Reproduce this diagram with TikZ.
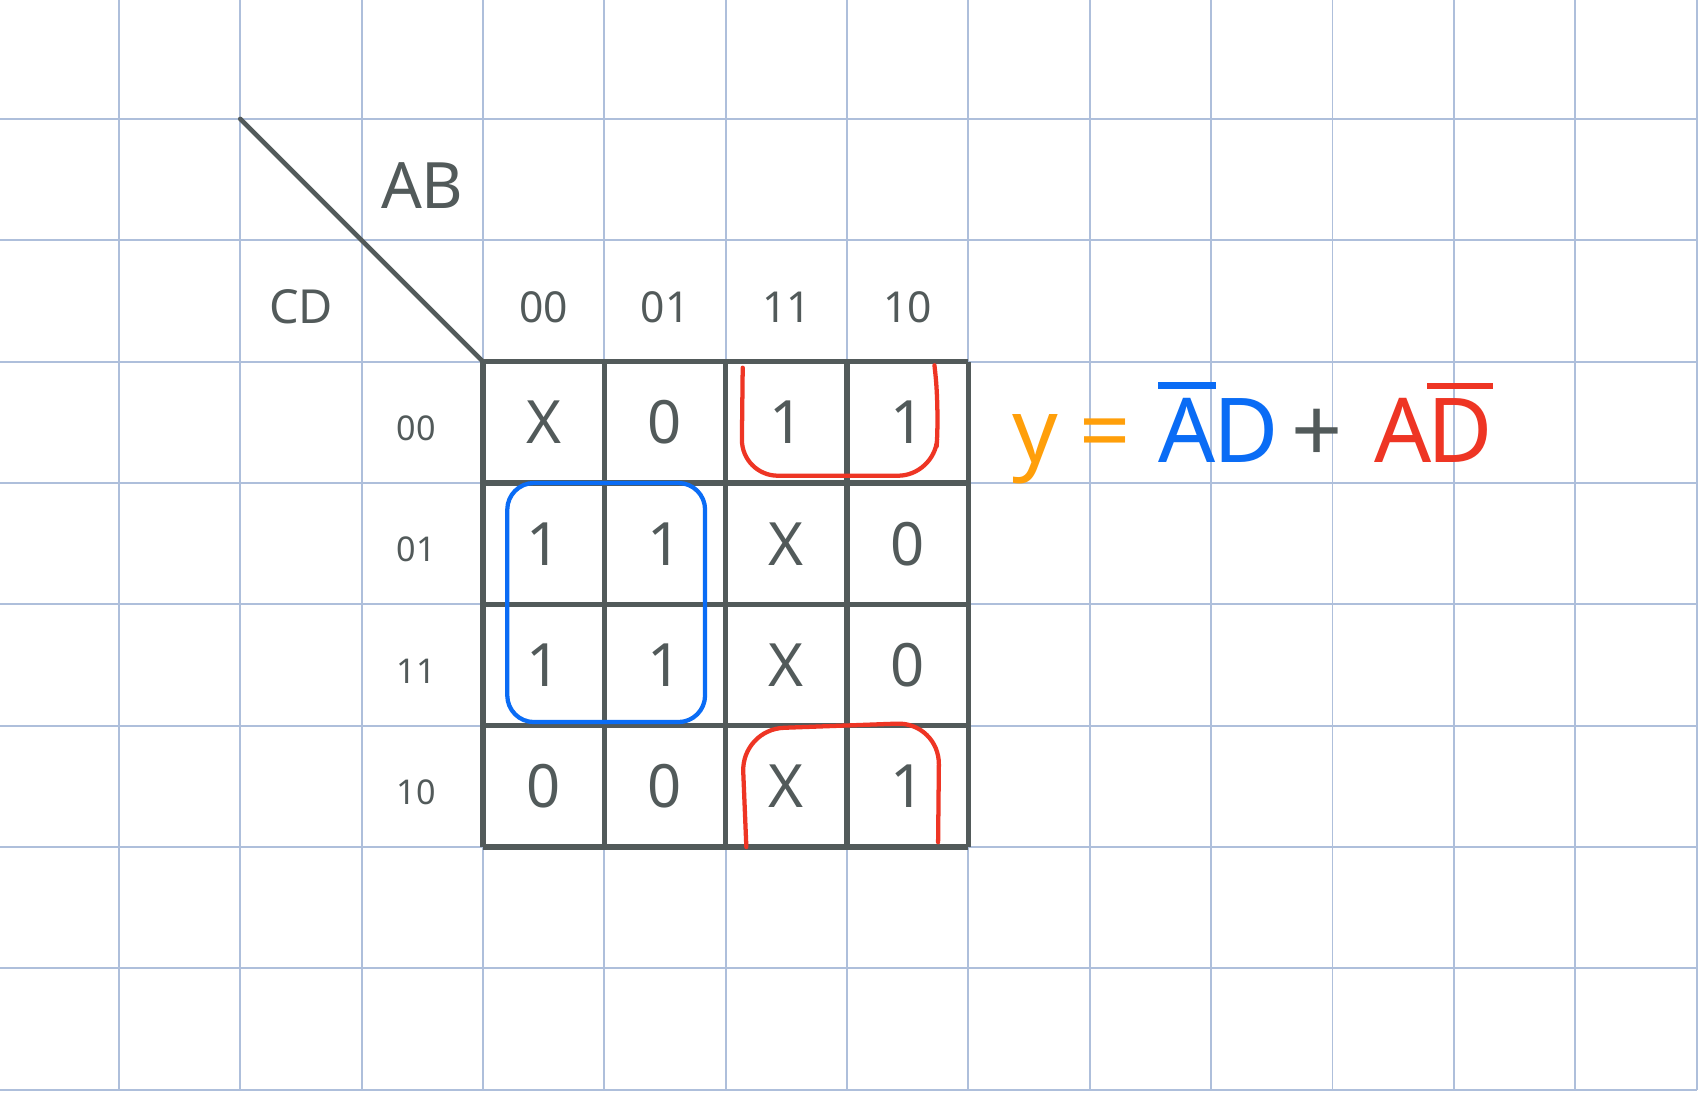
\documentclass[tikz,border=0pt]{standalone}
\usepackage{fontspec}
\setmainfont{Noto Sans}
\definecolor{paper}{HTML}{AEBFDB}
\definecolor{ink}{HTML}{525A5A}
\definecolor{grpblue}{HTML}{0A6CF5}
\definecolor{grpred}{HTML}{EE3524}
\definecolor{eqorange}{HTML}{FF9F0A}
\newcommand{\barred}[1]{\setbox0\hbox{#1}\vbox{\hrule width\wd0 height1.5pt\kern2.2pt\box0}}
\tikzset{
  kmap/.style={draw=ink,line width=1.3pt},
  val/.style={text=ink,font=\fontsize{14}{14}\selectfont},
  colhdr/.style={text=ink,font=\fontsize{10}{10}\selectfont},
  rowhdr/.style={text=ink,font=\fontsize{8}{8}\selectfont},
  grp/.style={line width=1pt,line cap=round,line join=round},
  eq/.style={anchor=base,font=\fontsize{21}{21}\selectfont}
}
\begin{document}
\begin{tikzpicture}
\useasboundingbox (0.02,-0.02) rectangle (14.02,8.98);
\fill[white] (0.02,-0.02) rectangle (14.02,8.98);
\draw[paper,line width=0.45pt] (0,0) grid (14,9);
\draw[kmap] (4,2) grid (8,6);
\coordinate (corner) at (4,6);
\coordinate (tail) at (2,8);
\draw[ink,line width=1.1pt,line cap=round] (tail)--(corner);
\node[text=ink,font=\fontsize{15}{15}\selectfont] (ab) at (3.5,7.45){AB};
\node[text=ink,font=\fontsize{11}{11}\selectfont] (cd) at (2.5,6.45){CD};
\foreach \c/\l in {0/00,1/01,2/11,3/10} {\node[colhdr] (col\c) at (4.5+\c,6.45){\l}; \node[rowhdr] (row\c) at (3.45,5.45-\c){\l};}
\foreach \r/\vals in {0/{X,0,1,1},1/{1,1,X,0},2/{1,1,X,0},3/{0,0,X,1}} {\foreach \v [count=\c from 0] in \vals {\node[val] (v\r\c) at (4.5+\c,5.5-\r){\v};}}
\draw[grp,grpblue,rounded corners=0.22cm] (4.2,3.03) rectangle (5.83,5.0);
\draw[grp,grpred,rounded corners=0.3cm] (6.14,5.95)--(6.13,5.06)--(7.72,5.06)--(7.76,5.6)--(7.72,5.97);
\draw[grp,grpred,rounded corners=0.35cm] (6.17,2.0)--(6.13,2.97)--(7.76,3.03)--(7.75,2.04);
\node[eq,text=eqorange] (eqy) at (8.55,5.17){y};
\node[eq,text=eqorange] (eqeq) at (9.13,5.17){=};
\node[eq,text=grpblue] (eqa) at (9.8,5.17){\barred{A}};
\node[eq,text=grpblue] (eqd) at (10.29,5.17){D};
\node[eq,text=ink] (eqplus) at (10.87,5.17){+};
\node[eq,text=grpred] (eqan) at (11.58,5.17){A};
\node[eq,text=grpred] (eqdn) at (12.05,5.17){\barred{D}};
\end{tikzpicture}
\end{document}
